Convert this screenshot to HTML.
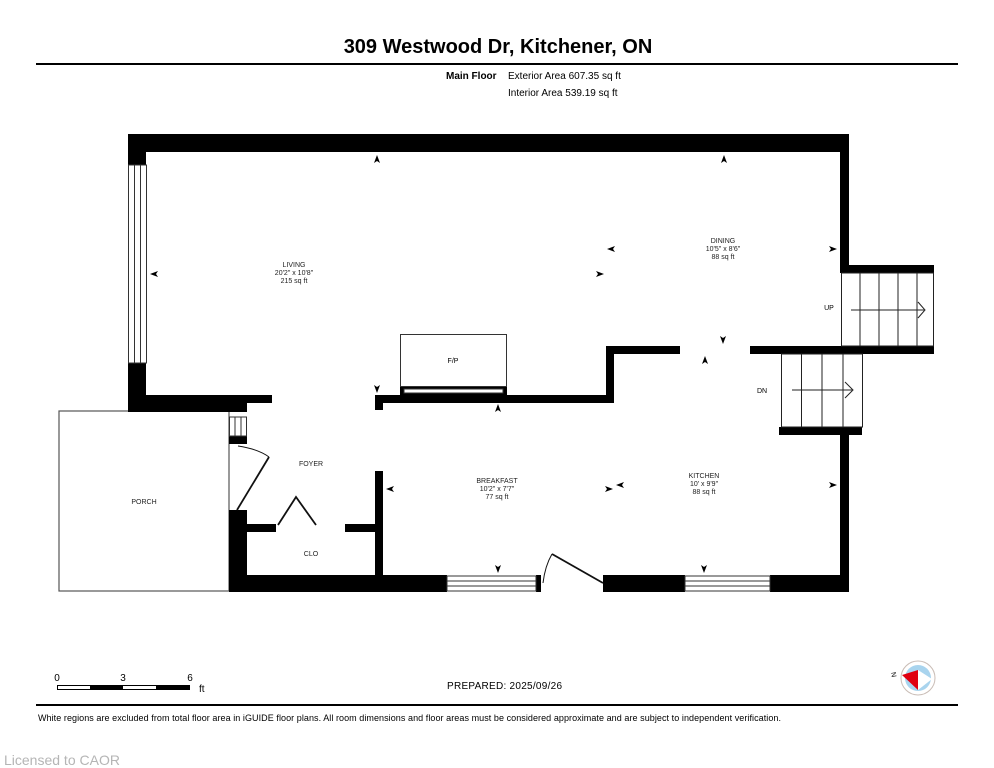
<!DOCTYPE html>
<html><head><meta charset="utf-8"><style>
html,body{margin:0;padding:0;background:#fff;}
svg{display:block;font-family:"Liberation Sans",Arial,sans-serif;}
</style></head><body>
<svg width="994" height="768" viewBox="0 0 994 768" xmlns="http://www.w3.org/2000/svg">
<rect width="994" height="768" fill="#fff"/>
<text x="498" y="53" font-size="20" font-weight="bold" text-anchor="middle">309 Westwood Dr, Kitchener, ON</text>
<rect x="36" y="63" width="922" height="2" fill="#000"/>
<text x="446" y="79" font-size="10" font-weight="bold">Main Floor</text>
<text x="508" y="79" font-size="10">Exterior Area 607.35 sq ft</text>
<text x="508" y="96" font-size="10">Interior Area 539.19 sq ft</text>

<rect x="59" y="411" width="170" height="180" fill="none" stroke="#555" stroke-width="1.2"/>
<g fill="#000">
<rect x="128" y="134" width="721" height="18"/>
<rect x="128" y="134" width="18" height="31"/>
<rect x="128" y="363" width="18" height="49"/>
<rect x="128" y="395" width="119" height="17"/>
<rect x="146" y="395" width="126" height="8"/>
<rect x="229" y="436" width="18" height="8"/>
<rect x="229" y="510" width="18" height="81"/>
<rect x="229" y="575" width="218" height="17"/>
<rect x="536" y="575" width="5" height="17"/>
<rect x="603" y="575" width="82" height="17"/>
<rect x="770" y="575" width="79" height="17"/>
<rect x="247" y="524" width="29" height="8"/>
<rect x="345" y="524" width="31" height="8"/>
<rect x="375" y="471" width="8" height="105"/>
<rect x="840" y="134" width="9" height="132"/>
<rect x="840" y="265" width="94" height="8"/>
<rect x="750" y="346" width="184" height="8"/>
<rect x="779" y="427" width="83" height="8"/>
<rect x="840" y="427" width="9" height="164"/>
<rect x="606" y="346" width="74" height="8"/>
<rect x="606" y="346" width="8" height="57"/>
<rect x="375" y="395" width="239" height="8"/>
<rect x="375" y="395" width="8" height="15"/>
<rect x="400" y="386" width="107" height="9"/>
</g>
<g fill="#fff" stroke="#333" stroke-width="1">
<rect x="128.5" y="165" width="18" height="198"/>
<rect x="404" y="389" width="99" height="4"/>
<rect x="447" y="576" width="89" height="15"/>
<rect x="685" y="576" width="85" height="15"/>
<rect x="229.5" y="417" width="17" height="19"/>
</g>
<g stroke="#333" stroke-width="1">
<line x1="134.5" y1="165" x2="134.5" y2="363"/><line x1="140.5" y1="165" x2="140.5" y2="363"/>
<line x1="447" y1="581" x2="536" y2="581"/><line x1="447" y1="586" x2="536" y2="586"/>
<line x1="685" y1="581" x2="770" y2="581"/><line x1="685" y1="586" x2="770" y2="586"/>
<line x1="235" y1="417" x2="235" y2="436"/><line x1="241" y1="417" x2="241" y2="436"/>
</g>
<rect x="400.5" y="334.5" width="106" height="52" fill="none" stroke="#333"/>
<text x="453" y="363" font-size="7" text-anchor="middle">F/P</text>
<g fill="none" stroke="#222" stroke-width="1">
<rect x="841.5" y="273" width="92" height="73"/>
<line x1="860" y1="273" x2="860" y2="346"/><line x1="879" y1="273" x2="879" y2="346"/>
<line x1="898" y1="273" x2="898" y2="346"/><line x1="917" y1="273" x2="917" y2="346"/>
<line x1="851" y1="310" x2="924" y2="310"/><polyline points="918,302 925,310 918,318"/>
<rect x="781.5" y="354" width="81" height="73"/>
<line x1="801.5" y1="354" x2="801.5" y2="427"/><line x1="822" y1="354" x2="822" y2="427"/><line x1="843" y1="354" x2="843" y2="427"/>
<line x1="792" y1="390" x2="852" y2="390"/><polyline points="845,382 853,390 845,398"/>
</g>
<text x="829" y="310" font-size="7" text-anchor="middle">UP</text>
<text x="762" y="393" font-size="7" text-anchor="middle">DN</text>
<g fill="none" stroke="#111">
<path d="M238 446 Q258 449 269 457" stroke-width="1"/>
<line x1="269" y1="457" x2="237" y2="510" stroke-width="1.8"/>
<polyline points="278,525 296,497 316,525" stroke-width="1.8"/>
<line x1="552" y1="554" x2="603" y2="583" stroke-width="1.8"/>
<path d="M552 554 Q545 566 543 583" stroke-width="1"/>
</g>
<g fill="#000">
<polygon points="377,155 374,163 377,161 380,163"/>
<polygon points="724,155 721,163 724,161 727,163"/>
<polygon points="150,274 158,271 156,274 158,277"/>
<polygon points="607,249 615,246 613,249 615,252"/>
<polygon points="604,274 596,271 598,274 596,277"/>
<polygon points="837,249 829,246 831,249 829,252"/>
<polygon points="377,393 374,385 377,387 380,385"/>
<polygon points="498,404 495,412 498,410 501,412"/>
<polygon points="723,344 720,336 723,338 726,336"/>
<polygon points="705,356 702,364 705,362 708,364"/>
<polygon points="386,489 394,486 392,489 394,492"/>
<polygon points="613,489 605,486 607,489 605,492"/>
<polygon points="616,485 624,482 622,485 624,488"/>
<polygon points="837,485 829,482 831,485 829,488"/>
<polygon points="498,573 495,565 498,567 501,565"/>
<polygon points="704,573 701,565 704,567 707,565"/>
</g>
<g font-size="7" text-anchor="middle" fill="#222">
<text x="294" y="267">LIVING</text><text x="294" y="275">20'2" x 10'8"</text><text x="294" y="283">215 sq ft</text>
<text x="723" y="243">DINING</text><text x="723" y="251">10'5" x 8'6"</text><text x="723" y="259">88 sq ft</text>
<text x="497" y="483">BREAKFAST</text><text x="497" y="491">10'2" x 7'7"</text><text x="497" y="499">77 sq ft</text>
<text x="704" y="478">KITCHEN</text><text x="704" y="486">10' x 9'9"</text><text x="704" y="494">88 sq ft</text>
<text x="311" y="466">FOYER</text>
<text x="311" y="556">CLO</text>
<text x="144" y="504">PORCH</text>
</g>
<g font-size="10">
<text x="57" y="681" text-anchor="middle">0</text>
<text x="123" y="681" text-anchor="middle">3</text>
<text x="190" y="681" text-anchor="middle">6</text>
<text x="199" y="692">ft</text>
</g>
<rect x="57.5" y="685.5" width="132" height="4" fill="#fff" stroke="#000" stroke-width="1"/>
<rect x="90" y="685" width="33" height="5" fill="#000"/>
<rect x="156" y="685" width="34" height="5" fill="#000"/>
<text x="447" y="689" font-size="10" textLength="115">PREPARED: 2025/09/26</text>
<circle cx="918" cy="678" r="17" fill="#fff" stroke="#c9bcb5" stroke-width="1"/>
<circle cx="918" cy="678" r="13" fill="#a9d4ee"/>
<polygon points="902,675 918,670 918,690" fill="#e00010"/>
<polygon points="918,670 932,679 918,690" fill="#fff"/>
<text x="894" y="675" font-size="7" transform="rotate(80 894 672)">N</text>
<rect x="36" y="704" width="922" height="2" fill="#000"/>
<text x="38" y="721" font-size="9" textLength="743">White regions are excluded from total floor area in iGUIDE floor plans. All room dimensions and floor areas must be considered approximate and are subject to independent verification.</text>
<text x="4" y="765" font-size="14" fill="#b5b5b5">Licensed to CAOR</text>
</svg>
</body></html>
